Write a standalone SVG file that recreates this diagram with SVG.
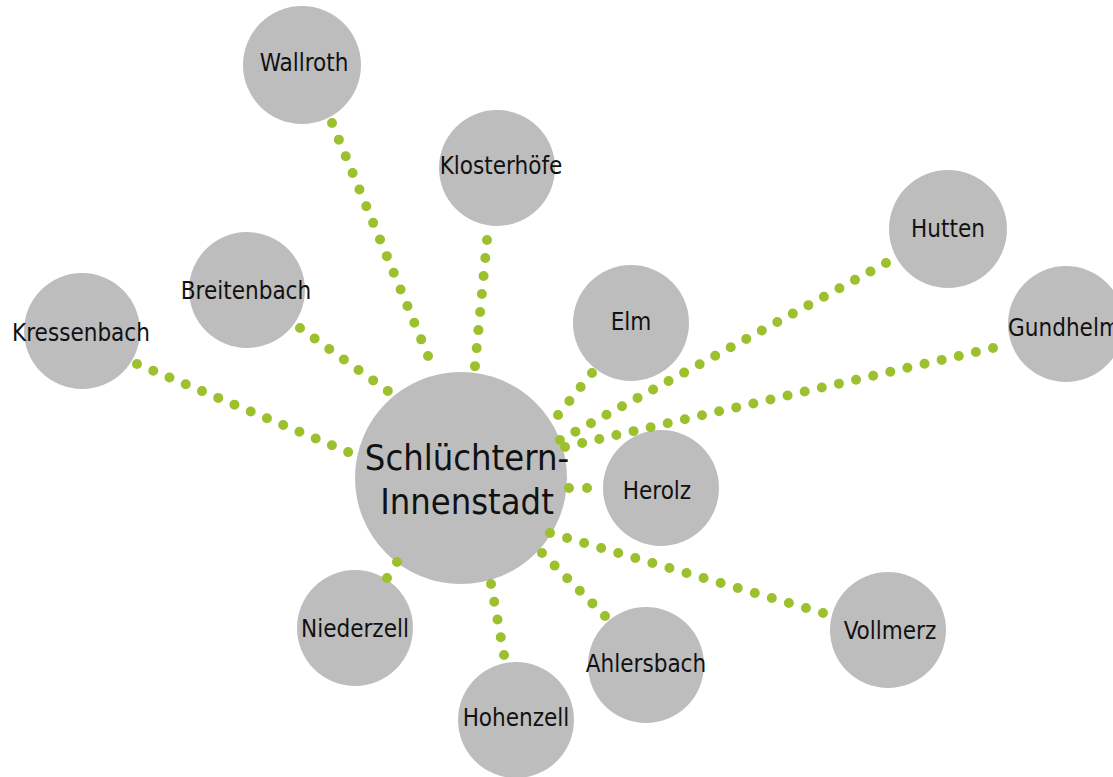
<svg xmlns="http://www.w3.org/2000/svg" width="1113" height="777" viewBox="0 0 1113 777">
<style>
.n{fill:#bdbdbd}
.t{font-family:"DejaVu Sans Condensed","DejaVu Sans",sans-serif;font-stretch:condensed;font-size:24px;fill:#111;text-anchor:middle}
.big{font-size:36px}
.c{stroke:#9dc02e;stroke-width:10;stroke-linecap:round;fill:none}
</style>
<rect width="1113" height="777" fill="#fff"/>
<g id="node-center"><circle class="n" cx="461" cy="478" r="106"/><text class="t big" x="467" y="470">Schlüchtern-</text><text class="t big" x="467" y="514">Innenstadt</text></g>
<g id="node-wallroth"><circle class="n" cx="302" cy="65" r="59"/><text class="t" x="304" y="71">Wallroth</text></g>
<g id="node-klosterhoefe"><circle class="n" cx="497" cy="168" r="58"/><text class="t" x="501" y="174">Klosterhöfe</text></g>
<g id="node-breitenbach"><circle class="n" cx="247" cy="290" r="58"/><text class="t" x="246" y="299">Breitenbach</text></g>
<g id="node-kressenbach"><circle class="n" cx="82" cy="331" r="58"/><text class="t" x="81" y="341">Kressenbach</text></g>
<g id="node-elm"><circle class="n" cx="631" cy="323" r="58"/><text class="t" x="631" y="330">Elm</text></g>
<g id="node-hutten"><circle class="n" cx="948" cy="229" r="59"/><text class="t" x="948" y="237">Hutten</text></g>
<g id="node-gundhelm"><circle class="n" cx="1066" cy="324" r="58"/><text class="t" x="1064" y="336">Gundhelm</text></g>
<g id="node-herolz"><circle class="n" cx="661" cy="488" r="58"/><text class="t" x="657" y="499">Herolz</text></g>
<g id="node-niederzell"><circle class="n" cx="355" cy="628" r="58"/><text class="t" x="355" y="637">Niederzell</text></g>
<g id="node-hohenzell"><circle class="n" cx="516" cy="720" r="58"/><text class="t" x="516" y="726">Hohenzell</text></g>
<g id="node-ahlersbach"><circle class="n" cx="646" cy="665" r="58"/><text class="t" x="646" y="672">Ahlersbach</text></g>
<g id="node-vollmerz"><circle class="n" cx="888" cy="630" r="58"/><text class="t" x="890" y="639">Vollmerz</text></g>
<g id="connectors">
<line class="c" x1="332" y1="123" x2="428.4" y2="356.9" stroke-dasharray="0 18"/>
<line class="c" x1="487" y1="240" x2="474.9" y2="367" stroke-dasharray="0 18.1"/>
<line class="c" x1="300" y1="328" x2="388.8" y2="391.6" stroke-dasharray="0 18"/>
<line class="c" x1="137" y1="364" x2="348.9" y2="452.4" stroke-dasharray="0 17.6"/>
<line class="c" x1="592" y1="373" x2="557.4" y2="415.8" stroke-dasharray="0 18"/>
<line class="c" x1="886" y1="263" x2="559.1" y2="440.5" stroke-dasharray="0 17.67"/>
<line class="c" x1="993" y1="348" x2="564" y2="447.2" stroke-dasharray="0 17.57"/>
<line class="c" x1="569" y1="488" x2="588" y2="488" stroke-dasharray="0 18"/>
<line class="c" x1="550" y1="533" x2="824" y2="613.3" stroke-dasharray="0 17.78"/>
<line class="c" x1="542" y1="553" x2="605.7" y2="616.7" stroke-dasharray="0 17.82"/>
<line class="c" x1="491" y1="584" x2="504.2" y2="656" stroke-dasharray="0 18.05"/>
<line class="c" x1="397" y1="562" x2="386.5" y2="578.8" stroke-dasharray="0 18.87"/>
</g>
</svg>
